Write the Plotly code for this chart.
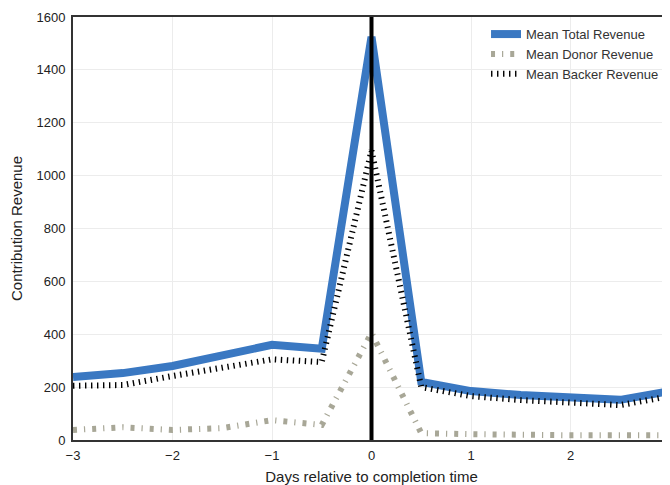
import plotly.graph_objects as go

days = [-3, -2.5, -2, -1.5, -1, -0.5, 0, 0.5, 1, 1.5, 2, 2.5, 3]
total_rev = [238, 253, 280, 320, 360, 345, 1525, 220, 185, 170, 160, 152, 185]
donor_rev = [38, 48, 38, 45, 75, 57, 405, 26, 22, 18, 18, 18, 18]
backer_rev = [205, 208, 242, 275, 305, 295, 1095, 200, 166, 151, 140, 132, 166]

x_ticks = [-3, -2, -1, 0, 1, 2, 3]
y_ticks = [0, 200, 400, 600, 800, 1000, 1200, 1400, 1600]

fig = go.Figure()
fig.add_trace(go.Scatter(x=days, y=total_rev, mode="lines", name="Mean Total Revenue",
                         line=dict(color="#3a78c2", width=8)))
fig.add_trace(go.Scatter(x=days, y=donor_rev, mode="lines", name="Mean Donor Revenue",
                         line=dict(color="#a8a797", width=6, dash="4px,7px,1.2px,7px")))
fig.add_trace(go.Scatter(x=days, y=backer_rev, mode="lines", name="Mean Backer Revenue",
                         line=dict(color="#000000", width=6, dash="1.4px,4.6px")))

fig.add_shape(type="line", x0=0, x1=0, y0=0, y1=1600, xref="x", yref="y",
              line=dict(color="black", width=4), layer="above")

fig.update_layout(
    width=670, height=485,
    margin=dict(l=65, r=8, t=9, b=53, autoexpand=False),
    paper_bgcolor="white", plot_bgcolor="white",
    font=dict(family="Liberation Sans, Arial, sans-serif", size=13, color="#222"),
    showlegend=True,
    legend=dict(x=0.99, y=0.995, xanchor="right", yanchor="top",
                bgcolor="rgba(0,0,0,0)", font=dict(size=13, color="#333"),
                itemwidth=30, tracegroupgap=0),
    xaxis=dict(range=[-3, 3], tickvals=x_ticks, showgrid=True, gridcolor="#ececec",
               showline=True, linecolor="#333", linewidth=2, mirror=True, zeroline=False,
               automargin=False, ticklabelstandoff=2,
               ticks="", title=dict(text="Days relative to completion time", standoff=10,
                                    font=dict(size=15))),
    yaxis=dict(range=[0, 1600], tickvals=y_ticks, showgrid=True, gridcolor="#ececec",
               showline=True, linecolor="#333", linewidth=2, mirror=True, zeroline=False,
               automargin=False, ticklabelstandoff=3,
               ticks="", title=dict(text="Contribution Revenue", standoff=11,
                                    font=dict(size=15))),
)

fig.write_html("out.html",
               post_script="document.documentElement.style.overflow='hidden';")
